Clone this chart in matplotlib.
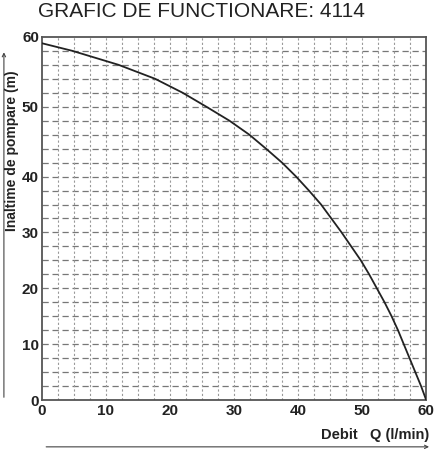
import numpy as np
import matplotlib
matplotlib.use("Agg")
import matplotlib.pyplot as plt
from matplotlib.patches import FancyArrowPatch

# pump curve (where it crosses the grid lines)
debit = [0, 4.8, 12.0, 17.7, 22.0, 25.7, 29.3, 32.4, 35.0, 37.5, 39.7, 41.7, 43.6,
         45.2, 46.8, 48.3, 49.8, 51.1, 52.3, 53.5, 54.6, 55.6, 56.5, 57.4, 58.3, 59.2, 60]
inaltime = [59.1, 58, 56, 54, 52, 50, 48, 46, 44, 42, 40, 37.5, 35,
            32.5, 30, 27.5, 25, 22.5, 20, 17.5, 15, 12.5, 10, 7.5, 5, 2.5, 0]

x_ticks = [0, 10, 20, 30, 40, 50, 60]
y_ticks = [0, 10, 20, 30, 40, 50, 60]
x_grid = np.arange(0, 60.01, 2.5)
y_grid = list(np.arange(0, 40.01, 2.5)) + list(np.arange(42, 60.01, 2))


# the original y axis is stretched above 40 m (grid every 2 m instead of 2.5 m)
def fwd(y):
    y = np.asarray(y, dtype=float)
    return np.where(y <= 40, y / 2.5, 16 + (y - 40) / 2.0)


def inv(v):
    v = np.asarray(v, dtype=float)
    return np.where(v <= 16, v * 2.5, 40 + (v - 16) * 2.0)


plt.rcParams['font.family'] = ['Liberation Sans', 'DejaVu Sans']

fig = plt.figure(figsize=(4.34, 4.5), dpi=100)
ax = fig.add_axes([0.096, 0.111, 0.886, 0.807])
ax.set_yscale('function', functions=(fwd, inv))

ax.plot(debit, inaltime, color='#222222', lw=1.3, zorder=3)

ax.set_xlim(0, 60)
ax.set_ylim(0, 60)
ax.set_xticks(x_ticks)
ax.set_yticks(y_ticks)
ax.set_xticks(x_grid, minor=True)
ax.set_yticks(y_grid, minor=True)
ax.tick_params(which='both', length=0)
ax.tick_params(axis='x', pad=3)
ax.tick_params(axis='y', pad=2)
for lab in ax.get_xticklabels() + ax.get_yticklabels():
    lab.set_fontweight('bold')
    lab.set_fontsize(11)
    lab.set_color('#222222')

# grid: dashed horizontal, dotted vertical
for y in y_grid[1:-1]:
    ax.axhline(y, color='#777777', lw=0.9, ls=(0, (5, 3)), zorder=1)
for x in x_grid[1:-1]:
    ax.axvline(x, color='#999999', lw=0.8, ls=(0, (2, 2)), zorder=1)

for s in ax.spines.values():
    s.set_color('#555555')
    s.set_linewidth(1.3)

fig.text(0.465, 0.975, 'GRAFIC DE FUNCTIONARE: 4114', ha='center', va='center',
         fontsize=15, color='#222222')

fig.text(0.028, 0.665, 'Inaltime de pompare (m)', rotation=90, ha='center',
         va='center', fontsize=10, fontweight='bold', color='#222222')
fig.text(0.99, 0.033, 'Debit   Q (l/min)', ha='right', va='center',
         fontsize=10.5, fontweight='bold', color='#222222')

# arrows along the outside of the plot
fig.add_artist(FancyArrowPatch((0.009, 0.111), (0.009, 0.89), transform=fig.transFigure,
                               arrowstyle='->', mutation_scale=6, lw=0.8, color='#444444'))
fig.add_artist(FancyArrowPatch((0.1, 0.007), (0.995, 0.007), transform=fig.transFigure,
                               arrowstyle='->', mutation_scale=6, lw=0.8, color='#444444'))

fig.savefig('out.png', dpi=100)
